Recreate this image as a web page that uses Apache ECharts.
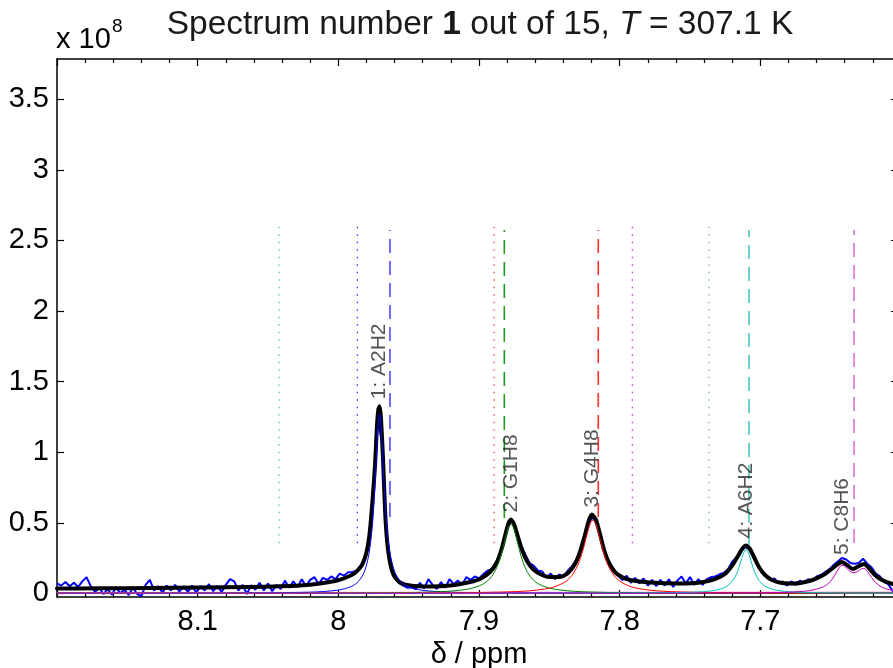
<!DOCTYPE html>
<html>
<head>
<meta charset="utf-8">
<script src="https://cdn.jsdelivr.net/npm/echarts@6/dist/echarts.min.js"></script>
<style>html,body{margin:0;padding:0;background:#fff;}#c{width:893px;height:668px;}</style>
</head>
<body>
<div id="c"></div>
<script>
// ---------- data (y values in units of 10^8) ----------
const xRange = [7.6, 8.2];
const yRange = [-0.026, 3.786];
const yTicks = [0, 0.5, 1, 1.5, 2, 2.5, 3, 3.5];

// fitted total spectrum (black)
const fitPpm = [8.2000, 8.1694, 8.1339, 8.0983, 8.0628, 8.0415, 8.0273, 8.0130, 8.0024, 7.9953,
  7.9882, 7.9832, 7.9796, 7.9775, 7.9754, 7.9739, 7.9725, 7.9715, 7.9707, 7.9697,
  7.9682, 7.9668, 7.9654, 7.9633, 7.9604, 7.9562, 7.9491, 7.9348, 7.9206, 7.9064,
  7.8993, 7.8922, 7.8872, 7.8837, 7.8808, 7.8787, 7.8773, 7.8751, 7.8723, 7.8694,
  7.8659, 7.8616, 7.8566, 7.8495, 7.8424, 7.8367, 7.8318, 7.8282, 7.8247, 7.8218,
  7.8197, 7.8168, 7.8140, 7.8111, 7.8076, 7.8033, 7.7984, 7.7927, 7.7784, 7.7571,
  7.7429, 7.7322, 7.7251, 7.7202, 7.7159, 7.7130, 7.7102, 7.7074, 7.7045, 7.7010,
  7.6967, 7.6917, 7.6846, 7.6754, 7.6683, 7.6612, 7.6540, 7.6484, 7.6448, 7.6420,
  7.6384, 7.6341, 7.6299, 7.6263, 7.6228, 7.6185, 7.6135, 7.6057, 7.6000];
const fitVal = [0.034, 0.0355, 0.0376, 0.041, 0.0447, 0.0496, 0.0553, 0.0695, 0.0872, 0.1085,
  0.1439, 0.2006, 0.307, 0.449, 0.697, 0.910, 1.193, 1.306, 1.325, 1.243,
  0.945, 0.591, 0.378, 0.222, 0.123, 0.0766, 0.0553, 0.0482, 0.0553, 0.0801,
  0.1014, 0.151, 0.222, 0.321, 0.435, 0.505, 0.523, 0.491, 0.399, 0.307,
  0.229, 0.172, 0.137, 0.1155, 0.1155, 0.1439, 0.2077, 0.2928, 0.4132, 0.5196,
  0.558, 0.5196, 0.4203, 0.307, 0.2148, 0.151, 0.1155, 0.0943, 0.0766, 0.0695,
  0.0766, 0.1014, 0.1368, 0.194, 0.2644, 0.3141, 0.339, 0.3141, 0.2574, 0.1865,
  0.1297, 0.0943, 0.073, 0.0695, 0.0801, 0.1014, 0.1368, 0.1794, 0.2077, 0.222,
  0.2006, 0.172, 0.1935, 0.2077, 0.1794, 0.1297, 0.0943, 0.0659, 0.062];

// measured spectrum (blue), sampled every 0.003 ppm from 8.200 ppm
const expStart = 8.2, expStep = 0.003;
const expVal = [0.07, 0.055, 0.08, 0.05, 0.075, 0.045, 0.085, 0.115, 0.05, 0.01,
  0.04, -0.005, 0.03, -0.01, 0.045, 0.0, 0.025, -0.012, 0.04, -0.005,
  -0.02, 0.06, 0.095, 0.02, 0.05, 0.005, 0.055, 0.02, 0.06, 0.012,
  0.05, 0.01, 0.055, 0.005, 0.05, 0.02, 0.065, 0.015, 0.05, 0.01,
  0.06, 0.1, 0.085, 0.02, 0.06, -0.005, 0.058, 0.025, 0.075, 0.02,
  0.07, 0.015, 0.06, 0.03, 0.09, 0.04, 0.085, 0.045, 0.1, 0.05,
  0.095, 0.115, 0.065, 0.11, 0.095, 0.12, 0.1, 0.14, 0.125, 0.15,
  0.15, 0.163, 0.195, 0.26, 0.406, 0.73, 1.236, 1.07, 0.448, 0.20,
  0.11, 0.075, 0.055, 0.04, 0.042, 0.03, 0.075, 0.035, 0.1, 0.06,
  0.03, 0.08, 0.04, 0.1, 0.065, 0.09, 0.06, 0.115, 0.095, 0.12,
  0.105, 0.135, 0.16, 0.171, 0.217, 0.287, 0.383, 0.487, 0.514, 0.432,
  0.337, 0.274, 0.214, 0.195, 0.16, 0.155, 0.11, 0.14, 0.1, 0.135,
  0.115, 0.16, 0.19, 0.236, 0.304, 0.395, 0.50, 0.54, 0.48, 0.387,
  0.287, 0.214, 0.166, 0.125, 0.095, 0.125, 0.075, 0.11, 0.07, 0.105,
  0.055, 0.095, 0.05, 0.095, 0.055, 0.1, 0.045, 0.09, 0.12, 0.07,
  0.115, 0.06, 0.1, 0.06, 0.1, 0.115, 0.12, 0.135, 0.145, 0.17,
  0.224, 0.256, 0.296, 0.328, 0.315, 0.261, 0.204, 0.15, 0.125, 0.095,
  0.105, 0.07, 0.085, 0.055, 0.085, 0.06, 0.09, 0.075, 0.1, 0.09,
  0.12, 0.13, 0.15, 0.17, 0.2, 0.225, 0.25, 0.24, 0.215, 0.21,
  0.215, 0.245, 0.21, 0.185, 0.14, 0.12, 0.08, 0.065, 0.016, 0.024,
  0.03];

// fitted components
const c1Ppm = [8.20, 8.10, 8.0207, 8.0007, 7.9907, 7.9857, 7.9817, 7.9787, 7.9767, 7.9752, 7.9737, 7.9727, 7.9717, 7.9707,
  7.9697, 7.9687, 7.9677, 7.9662, 7.9647, 7.9627, 7.9597, 7.9557, 7.9507, 7.9407, 7.9207, 7.8707, 7.7707, 7.60];
const c1Val = [0.0004, 0.0012, 0.0081, 0.0222, 0.0488, 0.0843, 0.148, 0.254, 0.391, 0.560, 0.813, 1.016, 1.195, 1.27,
  1.195, 1.016, 0.813, 0.560, 0.391, 0.254, 0.148, 0.0843, 0.0488, 0.0222, 0.0081, 0.0020, 0.0005, 0.00015];
const c2Ppm = [8.20, 8.0773, 7.9773, 7.9273, 7.9073, 7.8973, 7.8923, 7.8883, 7.8853, 7.8833, 7.8813, 7.8793, 7.8773,
  7.8753, 7.8733, 7.8713, 7.8693, 7.8663, 7.8623, 7.8573, 7.8473, 7.8273, 7.7773, 7.6773, 7.60];
const c2Val = [0.0003, 0.0007, 0.0030, 0.0116, 0.031, 0.0647, 0.104, 0.164, 0.239, 0.308, 0.388, 0.46, 0.49,
  0.46, 0.388, 0.308, 0.239, 0.164, 0.104, 0.0647, 0.031, 0.0116, 0.0030, 0.0007, 0.0004];
const c3Ppm = [8.20, 8.019, 7.919, 7.869, 7.849, 7.839, 7.834, 7.830, 7.827, 7.825, 7.823, 7.821, 7.819,
  7.817, 7.815, 7.813, 7.811, 7.808, 7.804, 7.799, 7.789, 7.769, 7.719, 7.619, 7.60];
const c3Val = [0.0003, 0.0009, 0.0037, 0.0146, 0.0386, 0.0796, 0.1264, 0.1944, 0.2757, 0.347, 0.4257, 0.4927, 0.52,
  0.4927, 0.4257, 0.347, 0.2757, 0.1944, 0.1264, 0.0796, 0.0386, 0.0146, 0.0037, 0.0009, 0.0008];
const c4Ppm = [8.20, 7.9102, 7.8102, 7.7602, 7.7402, 7.7302, 7.7252, 7.7212, 7.7182, 7.7162, 7.7142, 7.7122, 7.7102,
  7.7082, 7.7062, 7.7042, 7.7022, 7.6992, 7.6952, 7.6902, 7.6802, 7.6602, 7.60];
const c4Val = [0.0001, 0.0003, 0.0011, 0.0044, 0.0119, 0.0256, 0.0428, 0.0711, 0.1116, 0.155, 0.2147, 0.279, 0.31,
  0.279, 0.2147, 0.155, 0.1116, 0.0711, 0.0428, 0.0256, 0.0119, 0.0044, 0.0009];
const c5Ppm = [8.20, 8.00, 7.90, 7.80, 7.75, 7.70, 7.68, 7.665, 7.655, 7.65, 7.647, 7.644, 7.642, 7.640,
  7.637, 7.634, 7.631, 7.6285, 7.6263, 7.624, 7.621, 7.618, 7.614, 7.610, 7.605, 7.60];
const c5Val = [0.0001, 0.0001, 0.0002, 0.0006, 0.0012, 0.0038, 0.0081, 0.0193, 0.047, 0.0861, 0.13, 0.18, 0.198, 0.192,
  0.162, 0.146, 0.154, 0.172, 0.177, 0.156, 0.112, 0.076, 0.046, 0.030, 0.020, 0.0143];
const basePpm = [8.2, 7.6];
const baseVal = [0.005, 0.007];

// peak annotations
const peakNames = ['1: A2H2', '2: G1H8', '3: G4H8', '4: A6H2', '5: C8H6'];
const peakPpm = [7.9708, 7.8773, 7.8197, 7.7102, 7.6420];
const peakTop = [1.325, 0.523, 0.558, 0.339, 0.222];

// dashed markers (assigned shifts) and dotted markers
const dashPpm = [7.9633, 7.8820, 7.8152, 7.7081, 7.6334];
const dashTop = 2.574;
const dashBottom = [0.54, 0.534, 0.541, 0.342, 0.356];
const dotPpm = [8.0422, 7.9865, 7.8893, 7.7910, 7.7365];
const dotTop = 2.623;
const dotBottom = 0.355;

// ---------- styles ----------
const FONT = '"Liberation Sans", Arial, Helvetica, sans-serif';
const compColors = ['#0000ff', '#008000', '#ff0000', '#00bfbf', '#bf00bf'];
const dashColors = ['#4d4dff', '#1f9a1f', '#ff2a2a', '#4cc8c2', '#d870d8'];
const dotColors = ['#33c6c6', '#2020ff', '#ff3030', '#cc22cc', '#66b866'];

const zip = (a, b) => a.map((v, i) => [v, b[i]]);
const expPpm = expVal.map((_, i) => +(expStart - expStep * i).toFixed(4));

const series = [];
series.push({ type: 'line', data: zip(expPpm, expVal), showSymbol: false, symbol: 'none', z: 2,
  lineStyle: { color: '#0000ff', width: 2 } });
series.push({ type: 'line', data: zip(fitPpm, fitVal), showSymbol: false, symbol: 'none', smooth: 0.2, z: 3,
  lineStyle: { color: '#000000', width: 4, join: 'round', cap: 'round' } });
series.push({ type: 'line', data: zip(basePpm, baseVal), showSymbol: false, symbol: 'none', z: 4,
  lineStyle: { color: '#e0479e', width: 1.2 } });
[[c1Ppm, c1Val], [c2Ppm, c2Val], [c3Ppm, c3Val], [c4Ppm, c4Val], [c5Ppm, c5Val]].forEach((c, i) => {
  series.push({ type: 'line', data: zip(c[0], c[1]), showSymbol: false, symbol: 'none', smooth: 0.3, z: 4,
    lineStyle: { color: compColors[i], width: 1 } });
});
dashPpm.forEach((p, i) => {
  series.push({ type: 'line', data: [[p, dashBottom[i]], [p, dashTop]], showSymbol: false, symbol: 'none', z: 5,
    lineStyle: { color: dashColors[i], width: 1.6, type: [14, 8] } });
});
dotPpm.forEach((p, i) => {
  series.push({ type: 'line', data: [[p, dotBottom], [p, dotTop]], showSymbol: false, symbol: 'none', z: 5,
    lineStyle: { color: dotColors[i], width: 1.2, type: [1.5, 6] } });
});
series.push({
  type: 'scatter', z: 6, symbolSize: 1, itemStyle: { color: 'rgba(0,0,0,0)' },
  data: peakPpm.map((p, i) => ({ value: [p, peakTop[i]], name: peakNames[i] })),
  label: { show: true, formatter: '{b}', position: 'inside', rotate: 90, align: 'left', verticalAlign: 'middle',
    padding: [0, 0, 0, 7], fontSize: 21, color: '#2a2a2a', fontFamily: FONT }
});

const tickFont = { fontSize: 29, color: '#000', fontFamily: FONT };
const axisLineStyle = { color: '#000', width: 1.5 };
function xAx(pos, labels) {
  return {
    type: 'value', position: pos, min: xRange[0], max: xRange[1], interval: 0.1, inverse: true,
    axisLine: { show: true, onZero: false, lineStyle: axisLineStyle },
    axisTick: { show: true, inside: true, length: 7, lineStyle: { color: '#000', width: 1.2 } },
    minorTick: { show: true, splitNumber: 5, length: 4, lineStyle: { color: '#000', width: 1.2 } },
    splitLine: { show: false }, minorSplitLine: { show: false },
    axisLabel: Object.assign({ show: labels, showMinLabel: false, showMaxLabel: false, margin: 10 }, tickFont),
    name: labels ? 'δ / ppm' : '', nameLocation: 'middle', nameGap: 38,
    nameTextStyle: tickFont
  };
}
function yAx(pos, labels, len) {
  return {
    type: 'value', position: pos, min: yRange[0], max: yRange[1],
    axisLine: { show: true, onZero: false, lineStyle: axisLineStyle },
    axisTick: { show: true, inside: true, length: len, customValues: yTicks, lineStyle: { color: '#000', width: 1.2 } },
    axisLabel: Object.assign({ show: labels, customValues: yTicks, margin: 8 }, tickFont),
    splitLine: { show: false }
  };
}

const chart = echarts.init(document.getElementById('c'), null, { renderer: 'canvas' });
chart.setOption({
  animation: false,
  backgroundColor: '#ffffff',
  grid: { left: 57, right: -8, top: 59, bottom: 71, containLabel: false, outerBoundsMode: 'none' },
  xAxis: [xAx('bottom', true), xAx('top', false)],
  yAxis: [yAx('left', true, 7), yAx('right', false, 10)],
  graphic: [
    { type: 'text', x: 480, y: 25, z: 10, style: {
      text: 'Spectrum number {b|1} out of 15, {i|T} = 307.1 K',
      fontSize: 33.5, fontFamily: FONT, fill: '#1a1a1a', align: 'center', verticalAlign: 'middle',
      rich: {
        b: { fontWeight: 'bold', fontSize: 33.5, fontFamily: FONT, fill: '#1a1a1a', color: '#1a1a1a' },
        i: { fontStyle: 'italic', fontSize: 33.5, fontFamily: FONT, fill: '#1a1a1a', color: '#1a1a1a' }
      } } },
    { type: 'text', x: 56, y: 40, z: 10, style: { text: 'x 10', fontSize: 29, fontFamily: FONT, fill: '#000',
      align: 'left', verticalAlign: 'middle' } },
    { type: 'text', x: 112, y: 26.5, z: 10, style: { text: '8', fontSize: 19, fontFamily: FONT, fill: '#000',
      align: 'left', verticalAlign: 'middle' } }
  ],
  series: series
});
</script>
</body>
</html>
